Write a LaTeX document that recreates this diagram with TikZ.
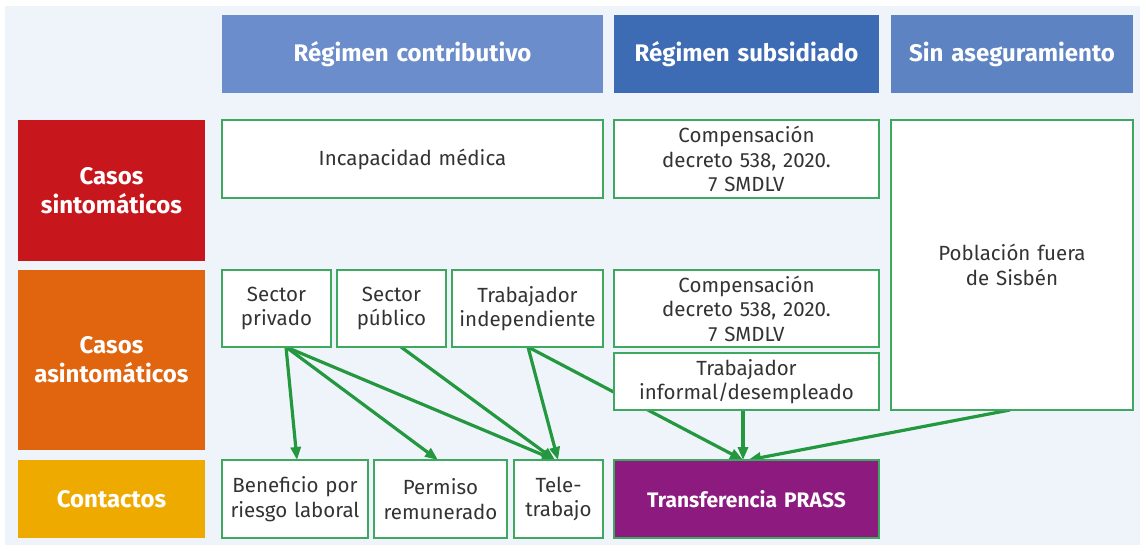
\documentclass[tikz,border=0pt]{standalone}
\usepackage{fontspec}
\setmainfont{Fira Sans}
\usetikzlibrary{arrows.meta,calc}
\definecolor{bgc}{HTML}{EFF4FA}
\definecolor{hcontrib}{HTML}{6C8DCB}
\definecolor{hsubs}{HTML}{3D6BB4}
\definecolor{hsin}{HTML}{5D83C3}
\definecolor{cred}{HTML}{C8161D}
\definecolor{corange}{HTML}{E1640F}
\definecolor{cyellow}{HTML}{EFAA00}
\definecolor{cpurple}{HTML}{8C1A7F}
\definecolor{gborder}{HTML}{3FA860}
\definecolor{garrow}{HTML}{24983F}
\definecolor{txt}{HTML}{333333}
\pgfdeclarelayer{back}
\pgfdeclarelayer{links}
\pgfsetlayers{back,links,main}
\tikzset{
  cell/.style={rectangle, inner sep=0pt, outer sep=0pt, align=center},
  headbox/.style={cell, text=white, font=\fontsize{24}{28}\selectfont\bfseries},
  rowbox/.style={cell, text=white, font=\fontsize{24}{29}\selectfont\bfseries},
  itembox/.style={cell, draw=gborder, line width=1.6pt, fill=white, text=txt, font=\fontsize{20.5}{24.5}\selectfont},
  prassbox/.style={cell, fill=cpurple, draw=gborder, line width=1.6pt, text=white, font=\fontsize{21}{25}\selectfont\bfseries},
  link/.style={draw=garrow, line width=3.2pt, -{Triangle[length=13pt,width=10pt]}},
}
\newcommand\bx[7]{\node[#1, anchor=north west, minimum width={(#5-#3)*1pt}, minimum height={(#6-#4)*1pt}, text width={(#5-#3-4)*1pt}] (#2) at (#3,#4) {#7};}
\begin{document}
\begin{tikzpicture}[x=1pt,y=-1pt]
\useasboundingbox (0,0) rectangle (1140,545);
\begin{pgfonlayer}{back}
\fill[bgc] (5,6) rectangle (1140,545);
\end{pgfonlayer}
% headers
\bx{headbox,fill=hcontrib}{hc}{222}{15}{603}{93}{Régimen contributivo}
\bx{headbox,fill=hsubs}{hs}{614}{15}{879}{93}{Régimen subsidiado}
\bx{headbox,fill=hsin}{hn}{891}{15}{1133}{93}{Sin aseguramiento}
% row labels
\bx{rowbox,fill=cred}{rs}{18}{120}{205}{261}{Casos\\sintomáticos}
\bx{rowbox,fill=corange}{ra}{18}{270}{205}{450}{Casos\\asintomáticos}
\bx{rowbox,fill=cyellow}{rc}{18}{460}{205}{538}{Contactos}
% row 1
\bx{itembox}{inc}{222}{120}{603}{198}{Incapacidad médica}
\bx{itembox}{comp1}{614}{120}{879}{198}{Compensación\\decreto 538, 2020.\\7 SMDLV}
\bx{itembox}{pob}{891}{120}{1133}{410}{Población fuera\\de Sisbén}
% row 2
\bx{itembox}{priv}{222}{270}{331}{347}{Sector\\privado}
\bx{itembox}{pub}{337}{270}{446}{347}{Sector\\público}
\bx{itembox}{indep}{452}{270}{603}{347}{Trabajador\\independiente}
\bx{itembox}{comp2}{614}{270}{879}{347}{Compensación\\decreto 538, 2020.\\7 SMDLV}
\bx{itembox}{inf}{614}{353}{879}{410}{Trabajador\\informal/desempleado}
% row 3
\bx{itembox}{ben}{222}{460}{368}{538}{Beneficio por\\riesgo laboral}
\bx{itembox}{perm}{374}{460}{507}{538}{Permiso\\remunerado}
\bx{itembox}{tele}{514}{460}{603}{538}{Tele-\\trabajo}
\bx{prassbox}{prass}{614}{460}{879}{538}{Transferencia PRASS}
% links
\begin{pgfonlayer}{links}
\draw[link] ($(priv.south west)+(64,0)$) -- ($(ben.north west)+(75,0)$);
\draw[link] ($(priv.south west)+(64,0)$) -- ($(perm.north west)+(64,0)$);
\draw[link] ($(priv.south west)+(64,0)$) -- ($(tele.north west)+(41,0)$);
\draw[link] ($(pub.south west)+(64,0)$) -- ($(tele.north west)+(41,0)$);
\draw[link] ($(indep.south west)+(76,0)$) -- ($(tele.north west)+(44,0)$);
\draw[link] ($(indep.south west)+(76,0)$) -- ($(prass.north west)+(129,0)$);
\draw[link] ($(inf.south west)+(129,0)$) -- ($(prass.north west)+(129,0)$);
\draw[link] ($(pob.south west)+(119,0)$) -- ($(prass.north west)+(134,0)$);
\end{pgfonlayer}
\end{tikzpicture}
\end{document}
